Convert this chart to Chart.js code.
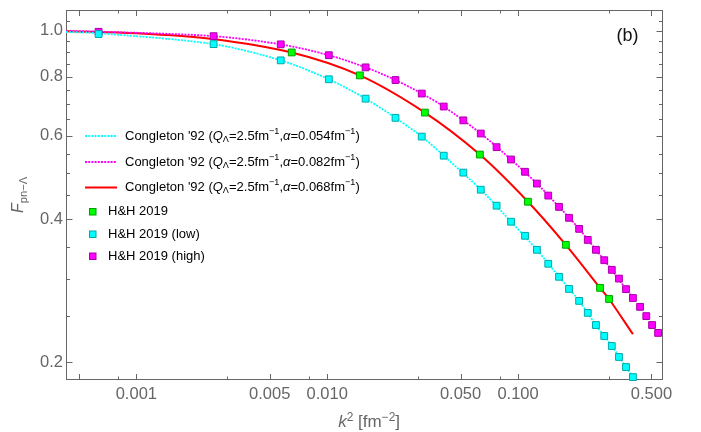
<!DOCTYPE html>
<html>
<head>
<meta charset="utf-8">
<script src="https://cdn.jsdelivr.net/npm/chart.js@4.4.0/dist/chart.umd.min.js"></script>
<style>
  html, body { margin: 0; padding: 0; background: #fff; }
  #formFactorChart { display: block; }
</style>
</head>
<body>
<canvas id="formFactorChart" width="701" height="432"></canvas>
<script>
// ---- H&H 2019 points (k^2 in fm^-2) ----
const k2Band = [0.000634, 0.00254, 0.00571, 0.0102, 0.0159, 0.0228, 0.0313, 0.0408, 0.0517, 0.0638,
  0.0772, 0.0919, 0.1088, 0.1256, 0.144, 0.164, 0.185, 0.209, 0.232, 0.256, 0.283, 0.310, 0.338,
  0.368, 0.400, 0.436, 0.470, 0.504, 0.542];
const fLow = [0.984, 0.937, 0.866, 0.790, 0.719, 0.655, 0.598, 0.545, 0.502, 0.462, 0.4275, 0.3954,
  0.3693, 0.345, 0.3224, 0.3026, 0.2853, 0.2692, 0.254, 0.2394, 0.227, 0.2162, 0.205, 0.1952, 0.1859];
const fHigh = [0.995, 0.974, 0.936, 0.888, 0.837, 0.787, 0.737, 0.692, 0.647, 0.607, 0.568, 0.535,
  0.504, 0.476, 0.449, 0.425, 0.403, 0.382, 0.362, 0.345, 0.328, 0.313, 0.300, 0.285, 0.273, 0.2615,
  0.250, 0.2394, 0.2304];
const k2Mid = [0.00652, 0.01483, 0.0325, 0.0631, 0.1127, 0.178, 0.269, 0.300];
const fMid = [0.900, 0.805, 0.672, 0.548, 0.4358, 0.3535, 0.2868, 0.2717];

// ---- Congleton '92 curves ----
const k2CurveLow = [0.000428, 0.000634, 0.00254, 0.00571, 0.0102, 0.0159, 0.0228, 0.0313, 0.0408,
  0.0638, 0.0919, 0.1256, 0.164, 0.209, 0.256, 0.310, 0.368, 0.400];
const fCurveLow = [0.994, 0.988, 0.937, 0.866, 0.790, 0.719, 0.655, 0.598, 0.545, 0.462, 0.3954,
  0.345, 0.3026, 0.2692, 0.2394, 0.2162, 0.1952, 0.1859];
const k2CurveHigh = [0.000428, 0.000634, 0.00254, 0.00571, 0.0102, 0.0159, 0.0228, 0.0313, 0.0408,
  0.0638, 0.0919, 0.1256, 0.164, 0.209, 0.256, 0.310, 0.368, 0.400];
const fCurveHigh = [0.999, 0.996, 0.974, 0.936, 0.888, 0.837, 0.787, 0.737, 0.692, 0.607, 0.535,
  0.476, 0.425, 0.382, 0.345, 0.313, 0.285, 0.273];
const k2CurveMid = [0.000428, 0.001, 0.0025, 0.00652, 0.01483, 0.0325, 0.0631, 0.1127, 0.178, 0.269,
  0.300, 0.400];
const fCurveMid = [0.998, 0.988, 0.961, 0.900, 0.805, 0.672, 0.548, 0.4358, 0.3535, 0.2868, 0.2717,
  0.229];

const congletonQ = "2.5";
const congletonAlpha = ["0.054", "0.082", "0.068"];

// ---- ticks ----
const xTickValues = [0.0005, 0.0006, 0.0007, 0.0008, 0.0009, 0.001, 0.002, 0.003, 0.004, 0.005, 0.006,
  0.007, 0.008, 0.009, 0.01, 0.02, 0.03, 0.04, 0.05, 0.06, 0.07, 0.08, 0.09, 0.1, 0.2, 0.3, 0.4, 0.5];
const xMajorValues = [0.0005, 0.001, 0.005, 0.01, 0.05, 0.1, 0.5];
const xLabelValues = [0.001, 0.005, 0.01, 0.05, 0.1, 0.5];
const xLabels = ["0.001", "0.005", "0.010", "0.050", "0.100", "0.500"];
const yTickValues = [0.2, 0.25, 0.3, 0.35, 0.4, 0.45, 0.5, 0.55, 0.6, 0.65, 0.7, 0.75, 0.8, 0.85, 0.9,
  0.95, 1.0, 1.05];
const yLabelValues = [0.2, 0.4, 0.6, 0.8, 1.0];
const yLabels = ["0.2", "0.4", "0.6", "0.8", "1.0"];

const toPoints = (xs, ys) => ys.map((v, i) => ({ x: xs[i], y: v }));
const labelFor = (values, labels) => (v) => {
  const i = values.indexOf(v);
  return i < 0 ? "" : labels[i];
};

const FONT = '"Liberation Sans", Arial, sans-serif';
const AXIS_GRAY = "#666666";

// text runs: [text, italic, shift]  shift 1 = superscript, -1 = subscript
function congletonLabel(alpha) {
  return [["Congleton '92 (", 0, 0], ["Q", 1, 0], ["Λ", 0, -1], ["=" + congletonQ + "fm", 0, 0],
    ["−1", 0, 1], [",", 0, 0], ["α", 1, 0], ["=" + alpha + "fm", 0, 0], ["−1", 0, 1], [")", 0, 0]];
}

function richWidth(ctx, runs, size) {
  let w = 0;
  for (const [t, it, sh] of runs) {
    const fs = sh ? size * 0.7 : size;
    ctx.font = (it ? "italic " : "") + fs + "px " + FONT;
    w += ctx.measureText(t).width;
  }
  return w;
}

function drawRich(ctx, runs, x, y, size) {
  let cx = x;
  for (const [t, it, sh] of runs) {
    const fs = sh ? size * 0.7 : size;
    ctx.font = (it ? "italic " : "") + fs + "px " + FONT;
    const dy = sh === 1 ? -size * 0.38 : sh === -1 ? size * 0.25 : 0;
    ctx.fillText(t, cx, y + dy);
    cx += ctx.measureText(t).width;
  }
  return cx - x;
}

// frame, inward ticks on all four sides, tick labels and axis titles
const frameAxes = {
  id: "frameAxes",
  beforeDatasetsDraw(chart) {
    const { ctx, chartArea: a, scales: { x, y } } = chart;
    ctx.save();
    ctx.strokeStyle = AXIS_GRAY;
    ctx.lineWidth = 1;
    ctx.strokeRect(a.left + 0.5, a.top + 0.5, a.right - a.left - 1, a.bottom - a.top - 1);

    ctx.beginPath();
    x.ticks.forEach((t) => {
      const px = Math.round(x.getPixelForValue(t.value)) + 0.5;
      const len = t.major ? 6 : 3.5;
      ctx.moveTo(px, a.bottom); ctx.lineTo(px, a.bottom - len);
      ctx.moveTo(px, a.top); ctx.lineTo(px, a.top + len);
    });
    y.ticks.forEach((t) => {
      const py = Math.round(y.getPixelForValue(t.value)) + 0.5;
      const len = t.major ? 6.5 : 4;
      ctx.moveTo(a.left, py); ctx.lineTo(a.left + len, py);
      ctx.moveTo(a.right, py); ctx.lineTo(a.right - len, py);
    });
    ctx.stroke();

    ctx.fillStyle = AXIS_GRAY;
    ctx.font = "16.5px " + FONT;
    ctx.textBaseline = "middle";
    ctx.textAlign = "center";
    x.ticks.forEach((t) => { if (t.label) ctx.fillText(t.label, x.getPixelForValue(t.value), a.bottom + 14.5); });
    ctx.textAlign = "right";
    y.ticks.forEach((t) => { if (t.label) ctx.fillText(t.label, a.left - 3, y.getPixelForValue(t.value)); });

    // k^2 [fm^-2]
    ctx.textAlign = "left";
    ctx.textBaseline = "alphabetic";
    const xTitle = [["k", 1, 0], ["2", 0, 1], [" [fm", 0, 0], ["−2", 0, 1], ["]", 0, 0]];
    drawRich(ctx, xTitle, 400 - richWidth(ctx, xTitle, 17), 427, 17);

    // F_{pn-Λ}
    ctx.save();
    ctx.translate(23, 213);
    ctx.rotate(-Math.PI / 2);
    drawRich(ctx, [["F", 1, 0], ["pn−Λ", 0, -1]], 0, 0, 16);
    ctx.restore();

    ctx.fillStyle = "#111";
    ctx.font = "18px " + FONT;
    ctx.textAlign = "center";
    ctx.textBaseline = "middle";
    ctx.fillText("(b)", 627.5, 36);
    ctx.restore();
  },
  afterDatasetsDraw(chart) {
    const { ctx } = chart;
    const rowY = [136, 162, 187.5, 211.5, 234, 256];
    ctx.save();
    ctx.fillStyle = "#000";
    ctx.textBaseline = "middle";
    chart.data.datasets.forEach((ds, i) => {
      const ly = rowY[i];
      if (ds.showLine) {
        ctx.strokeStyle = ds.borderColor;
        ctx.lineWidth = ds.borderWidth;
        ctx.setLineDash(ds.borderDash || []);
        ctx.beginPath();
        ctx.moveTo(85, ly); ctx.lineTo(117, ly);
        ctx.stroke();
        ctx.setLineDash([]);
        ctx.fillStyle = "#000";
        drawRich(ctx, ds.legendRuns, 125, ly, 13);
      } else {
        ctx.fillStyle = ds.backgroundColor;
        ctx.strokeStyle = ds.borderColor;
        ctx.lineWidth = 1;
        ctx.fillRect(89.5, ly - 3, 6.5, 6.5);
        ctx.strokeRect(89.5, ly - 3, 6.5, 6.5);
        ctx.fillStyle = "#000";
        drawRich(ctx, ds.legendRuns, 108, ly, 13);
      }
    });
    ctx.restore();
  },
};

const curve = (data, color, dash, runs) => ({
  data, legendRuns: runs, showLine: true, borderColor: color, borderWidth: dash ? 1.8 : 2,
  borderDash: dash ? [2, 1.2] : [], pointRadius: 0, tension: 0.3, order: 2,
});
const marks = (data, fill, edge, runs) => ({
  data, legendRuns: runs, showLine: false, backgroundColor: fill, borderColor: edge, borderWidth: 1,
  pointStyle: "rect", pointRadius: 4.8, clip: false, order: 1,
});

const formFactorChart = new Chart(document.getElementById("formFactorChart"), {
  type: "scatter",
  data: {
    datasets: [
      curve(toPoints(k2CurveLow, fCurveLow), "#00FFFF", true, congletonLabel(congletonAlpha[0])),
      curve(toPoints(k2CurveHigh, fCurveHigh), "#FF00FF", true, congletonLabel(congletonAlpha[1])),
      curve(toPoints(k2CurveMid, fCurveMid), "#FF0000", false, congletonLabel(congletonAlpha[2])),
      marks(toPoints(k2Mid, fMid), "#00FF00", "#00A000", [["H&H 2019", 0, 0]]),
      marks(toPoints(k2Band, fLow), "#00FFFF", "#00A8A8", [["H&H 2019 (low)", 0, 0]]),
      marks(toPoints(k2Band, fHigh), "#FF00FF", "#A800A8", [["H&H 2019 (high)", 0, 0]]),
    ],
  },
  options: {
    responsive: false,
    animation: false,
    layout: { padding: { left: 66, right: 38, top: 10, bottom: 52 } },
    plugins: { legend: { display: false }, tooltip: { enabled: false } },
    scales: {
      x: {
        type: "logarithmic",
        display: false,
        min: 0.000428,
        max: 0.575,
        ticks: { callback: labelFor(xLabelValues, xLabels) },
        afterBuildTicks: (scale) => {
          scale.ticks = xTickValues.map((v) => ({ value: v, major: xMajorValues.includes(v) }));
        },
      },
      y: {
        type: "logarithmic",
        display: false,
        min: 0.1833,
        max: 1.106,
        ticks: { callback: labelFor(yLabelValues, yLabels) },
        afterBuildTicks: (scale) => {
          scale.ticks = yTickValues.map((v) => ({ value: v, major: yLabelValues.includes(v) }));
        },
      },
    },
  },
  plugins: [frameAxes],
});
</script>
</body>
</html>
